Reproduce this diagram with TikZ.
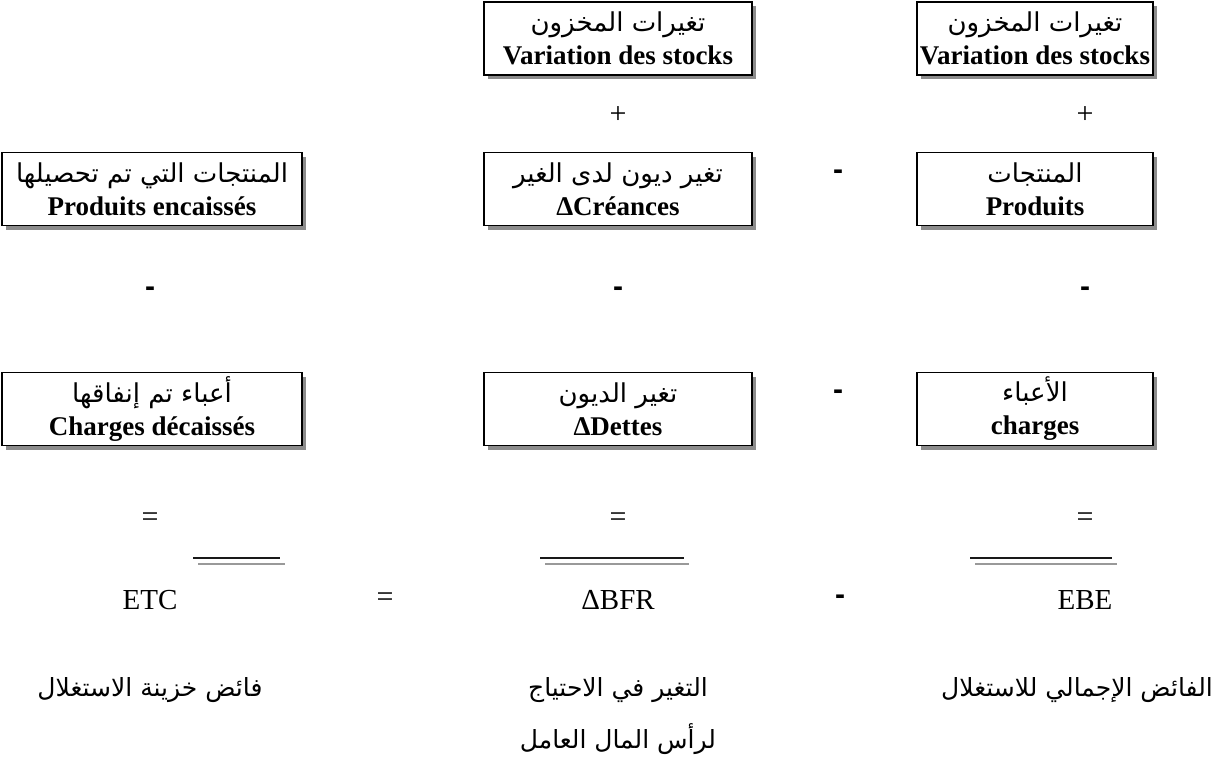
\documentclass[tikz,border=0pt]{standalone}
\usepackage{fontspec}
\setmainfont{Liberation Serif}
\newfontfamily\arabicfont[Script=Arabic]{DejaVu Sans}
\newfontfamily\dashfont{Liberation Sans}
\TeXXeTstate=1
\usetikzlibrary{shadows}
\newcommand{\ar}[1]{{\arabicfont\beginR #1\endR}}
\newcommand{\boxar}[1]{{\fontsize{26}{30}\selectfont\ar{#1}}}
\begin{document}
\begin{tikzpicture}[x=1pt,y=-1pt,
  box/.style={draw, line width=1.4pt, fill=white, align=center,
    minimum height=73pt, inner sep=1pt,
    font=\fontsize{27}{33}\selectfont,
    drop shadow={shadow xshift=4pt, shadow yshift=-4pt, fill=black!45, opacity=1}},
  sym/.style={font=\fontsize{30}{32}\selectfont, inner sep=0pt},
  dsh/.style={font=\dashfont\bfseries\fontsize{30}{32}\selectfont, inner sep=0pt},
  lbl/.style={font=\fontsize{29}{32}\selectfont, inner sep=0pt},
  arl/.style={font=\arabicfont\fontsize{25}{52}\selectfont, align=center, inner sep=0pt},
  rulea/.style={line width=2pt, black!90},
  ruleb/.style={line width=2pt, black!40}]
\useasboundingbox (0,0) rectangle (1223,780);

% top row
\node[box, minimum width=268pt] (sm) at (618,38.5) {\boxar{تغيرات المخزون}\\[0pt]\textbf{Variation des stocks}};
\node[box, minimum width=236pt] (sr) at (1035,38.5) {\boxar{تغيرات المخزون}\\[0pt]\textbf{Variation des stocks}};
\node[sym] (pm) at (618,115) {+};
\node[sym] (pr) at (1085,115) {+};

% second row
\node[box, minimum width=300pt] (pl) at (152,189) {\boxar{المنتجات التي تم تحصيلها}\\[0pt]\textbf{Produits encaissés}};
\node[box, minimum width=268pt] (cm) at (618,189) {\boxar{تغير ديون لدى الغير}\\[0pt]\textbf{ΔCréances}};
\node[box, minimum width=236pt] (prd) at (1035,189) {\boxar{المنتجات}\\[0pt]\textbf{Produits}};
\node[dsh] (d1) at (838,175) {-};

\node[dsh] (d2) at (150,292) {-};
\node[dsh] (d3) at (618,292) {-};
\node[dsh] (d4) at (1085,292) {-};

% third row
\node[box, minimum width=300pt] (chl) at (152,409) {\boxar{أعباء تم إنفاقها}\\[0pt]\textbf{Charges décaissés}};
\node[box, minimum width=268pt] (dm) at (618,409) {\boxar{تغير الديون}\\[0pt]\textbf{ΔDettes}};
\node[box, minimum width=236pt] (chr) at (1035,409) {\boxar{الأعباء}\\[0pt]\textbf{charges}};
\node[dsh] (d5) at (838,395) {-};

% results
\node[sym] (e1) at (150,520) {=};
\node[sym] (e2) at (618,520) {=};
\node[sym] (e3) at (1085,520) {=};

\coordinate (la1) at (193,558); \coordinate (la2) at (280,558);
\coordinate (lb1) at (198,564); \coordinate (lb2) at (285,564);
\coordinate (ma1) at (540,558); \coordinate (ma2) at (684,558);
\coordinate (mb1) at (545,564); \coordinate (mb2) at (689,564);
\coordinate (ra1) at (970,558); \coordinate (ra2) at (1112,558);
\coordinate (rb1) at (975,564); \coordinate (rb2) at (1117,564);
\draw[ruleb] (lb1) -- (lb2);
\draw[rulea] (la1) -- (la2);
\draw[ruleb] (mb1) -- (mb2);
\draw[rulea] (ma1) -- (ma2);
\draw[ruleb] (rb1) -- (rb2);
\draw[rulea] (ra1) -- (ra2);

\node[lbl] (etc) at (150,600) {ETC};
\node[sym] (eq) at (385,600) {=};
\node[lbl] (bfr) at (618,600) {ΔBFR};
\node[dsh] (d6) at (840,600) {-};
\node[lbl] (ebe) at (1085,600) {EBE};

% Arabic captions
\node[arl] (cl) at (150,690) {\ar{فائض خزينة الاستغلال}};
\node[arl, anchor=north] (cm2) at (618,677) {\ar{التغير في الاحتياج}\\\ar{لرأس المال العامل}};
\node[arl] (cr) at (1077,690) {\ar{الفائض الإجمالي للاستغلال}};
\end{tikzpicture}
\end{document}
